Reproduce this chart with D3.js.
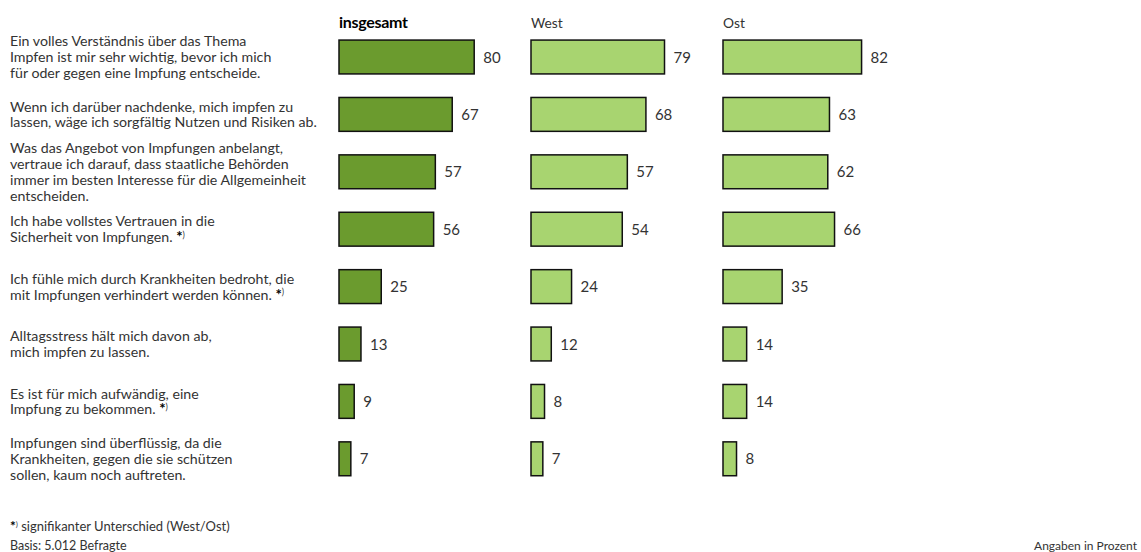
<!DOCTYPE html>
<html><head><meta charset="utf-8">
<script src="https://cdn.jsdelivr.net/npm/d3@7"></script>
<style>
html,body{margin:0;padding:0;background:#fff;}
svg text{font-family:Lato,"Open Sans",sans-serif;fill:#333;}
</style></head>
<body><svg id="c" width="1141" height="552"></svg>
<script>
const categories = [
  ["Ein volles Verständnis über das Thema","Impfen ist mir sehr wichtig, bevor ich mich","für oder gegen eine Impfung entscheide."],
  ["Wenn ich darüber nachdenke, mich impfen zu","lassen, wäge ich sorgfältig Nutzen und Risiken ab."],
  ["Was das Angebot von Impfungen anbelangt,","vertraue ich darauf, dass staatliche Behörden","immer im besten Interesse für die Allgemeinheit","entscheiden."],
  ["Ich habe vollstes Vertrauen in die","Sicherheit von Impfungen. *)"],
  ["Ich fühle mich durch Krankheiten bedroht, die","mit Impfungen verhindert werden können. *)"],
  ["Alltagsstress hält mich davon ab,","mich impfen zu lassen."],
  ["Es ist für mich aufwändig, eine","Impfung zu bekommen. *)"],
  ["Impfungen sind überflüssig, da die","Krankheiten, gegen die sie schützen","sollen, kaum noch auftreten."]
];
const seriesNames = ["insgesamt","West","Ost"];
const insgesamt = [80,67,57,56,25,13,9,7];
const west = [79,68,57,54,24,12,8,7];
const ost = [82,63,62,66,35,14,14,8];
const footnote = "signifikanter Unterschied (West/Ost)";
const basis = "Basis: 5.012 Befragte";
const unitNote = "Angaben in Prozent";

const svg = d3.select("#c");
const series = [
  {name:seriesNames[0], values:insgesamt, x0:339, color:"#6b9b2e", bold:true},
  {name:seriesNames[1], values:west, x0:531, color:"#a8d470", bold:false},
  {name:seriesNames[2], values:ost, x0:723, color:"#a8d470", bold:false}
];
const idx = d3.range(categories.length);
const y = d3.scaleBand().domain(idx).range([28.3, 487.5]).paddingInner(0.41).paddingOuter(0.205);
const x = d3.scaleLinear().domain([0,100]).range([0,169]);

function addStar(sel, fs){
  sel.append("tspan").text("*").attr("font-size",fs*1.05).attr("font-weight","bold").style("fill","#000");
  sel.append("tspan").text(")").attr("font-size",fs*0.6).attr("dy",-fs*0.3);
}

// category labels
const lh = 15.8;
const fsL = 14.2;
const lab = svg.append("g");
idx.forEach(i=>{
  const lines = categories[i];
  const cy = y(i)+y.bandwidth()/2;
  const t = lab.append("text").attr("x",10).attr("font-size",fsL);
  lines.forEach((ln,k)=>{
    const yy = cy + (k-(lines.length-1)/2)*lh + 5;
    const ts = t.append("tspan").attr("x",10).attr("y",yy);
    if(ln.endsWith("*)")){
      ts.text(ln.slice(0,-2));
      addStar(ts, fsL);
    } else ts.text(ln);
  });
});

series.forEach(s=>{
  const g = svg.append("g").attr("transform",`translate(${s.x0},0)`);
  g.append("text").attr("x",0).attr("y",28).attr("font-size",s.bold?16:13.8)
    .attr("font-weight",s.bold?"bold":"normal").attr("letter-spacing",s.bold?-0.3:0)
    .style("fill",s.bold?"#000":"#333").text(s.name);
  g.selectAll("rect").data(s.values).join("rect")
    .attr("x",0).attr("y",(d,i)=>y(i)).attr("width",d=>x(d)).attr("height",y.bandwidth())
    .attr("fill",s.color).attr("stroke","#111").attr("stroke-width",1.5);
  g.selectAll("text.v").data(s.values).join("text").attr("class","v")
    .attr("x",d=>x(d)+9).attr("y",(d,i)=>y(i)+y.bandwidth()/2+5.5)
    .attr("font-size",15).text(d=>d);
});

const f = svg.append("text").attr("x",10).attr("y",531).attr("font-size",13);
addStar(f, 13);
f.append("tspan").text(" "+footnote).attr("dy",13*0.3);
svg.append("text").attr("x",10).attr("y",550).attr("font-size",12.5).text(basis);
svg.append("text").attr("x",1137).attr("y",550).attr("font-size",12).attr("text-anchor","end").text(unitNote);
</script></body></html>
